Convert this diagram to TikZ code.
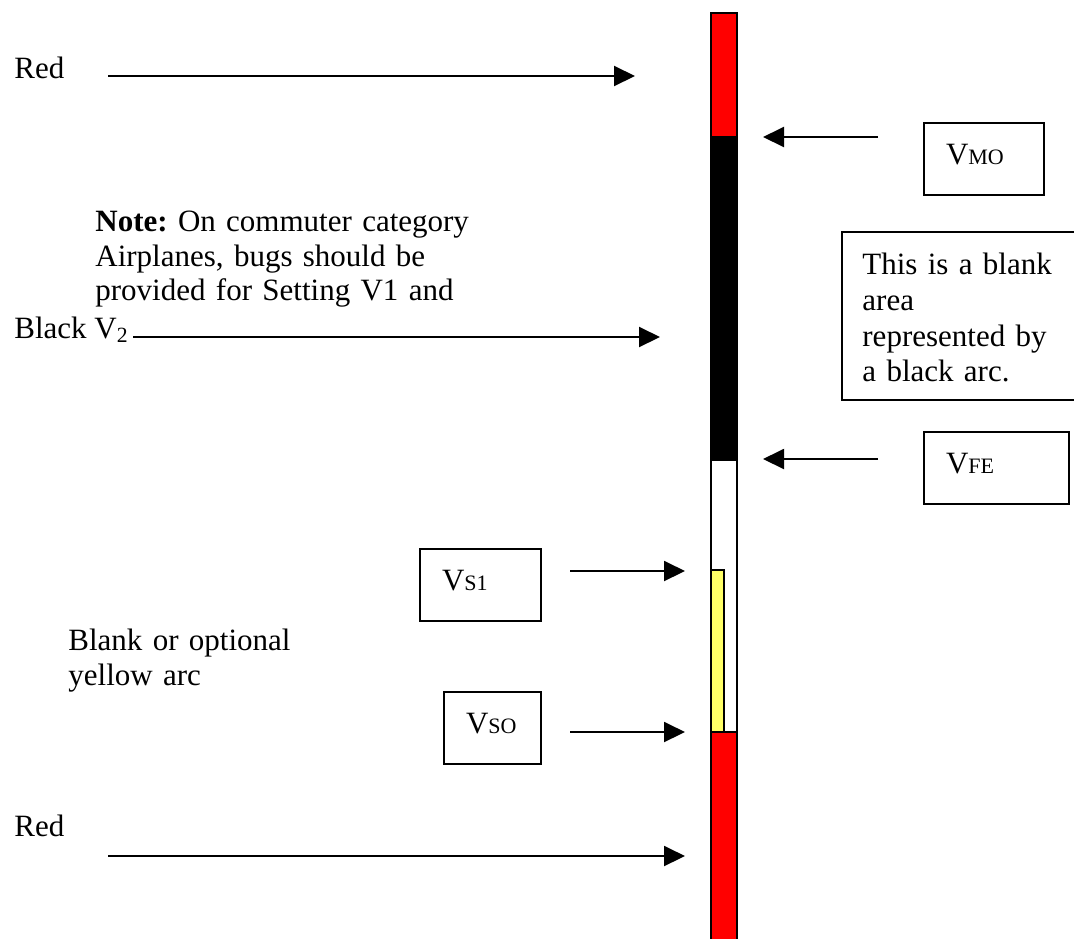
\documentclass[tikz,border=0pt]{standalone}
\usepackage{fontspec}
\setmainfont{Liberation Serif}
\usetikzlibrary{arrows.meta}
\definecolor{arcyellow}{RGB}{255,255,102}
\newcommand{\vsub}[1]{V{\fontsize{11}{12}\selectfont #1}}
\frenchspacing

\begin{document}
\begin{tikzpicture}[x=0.5pt,y=-0.5pt,font=\fontsize{15.5}{17.3}\selectfont,
    pointer/.style={line width=1pt,-{Triangle[length=10.5pt,width=10pt]}},
    speedbox/.style={draw,line width=1pt,anchor=north west,align=left,
      inner xsep=11pt,inner ysep=0pt,text height=20.5pt,text depth=15.5pt},
    plain/.style={anchor=base west,inner sep=0pt},
    para/.style={anchor=north west,inner sep=0pt,align=left,text width=#1}]
  \useasboundingbox (0,0) rectangle (1074,938);

  % the speed tape
  \begin{scope}[line width=0.75pt]
    \draw [fill=red] (711,13) rectangle (737,137);
    \draw [fill=black] (711,137) rectangle (737,460);
    \draw [fill=white] (711,460) rectangle (737,732);
    \draw [fill=arcyellow] (711,570) rectangle (724,732);
    \draw [fill=red] (711,732) rectangle (737,945);
  \end{scope}

  % labels on the left
  \node [plain] (redtop) at (14,78) {Red};
  \node [plain] (black) at (14,338) {Black V\textsubscript{2}};
  \node [plain] (redbot) at (14,836) {Red};
  \node [para=200pt] (note) at (95,210.5)
    {\textbf{Note:} On commuter category\\Airplanes, bugs should be\\provided for Setting V1 and};
  \node [para=200pt] (optional) at (68,629) {Blank or optional\\yellow arc};

  % speed boxes
  \node [speedbox,text width=38pt] (vmo) at (923,122) {\vsub{MO}};
  \node [speedbox,text width=50.5pt] (vfe) at (923,431) {\vsub{FE}};
  \node [speedbox,text width=38.5pt] (vsone) at (419,548) {\vsub{S1}};
  \node [speedbox,text width=26.5pt] (vso) at (443,691) {\vsub{SO}};
  \node [draw,line width=1pt,anchor=north west,minimum width=130pt,minimum height=84pt] (blankbox) at (841,231) {};
  \node [para=120pt,font=\fontsize{15.5}{17.8}\selectfont] (blanktxt) at (862,253)
    {This is a blank\\area\\represented by\\a black arc.};

  % arrow ends
  \coordinate (redtop-t) at (108,76);  \coordinate (redtop-h) at (635,76);
  \coordinate (black-t) at (133,337);  \coordinate (black-h) at (660,337);
  \coordinate (vmo-t) at (878,137);    \coordinate (vmo-h) at (763,137);
  \coordinate (vfe-t) at (878,459);    \coordinate (vfe-h) at (763,459);
  \coordinate (vsone-t) at (570,571);  \coordinate (vsone-h) at (685,571);
  \coordinate (vso-t) at (570,732);    \coordinate (vso-h) at (685,732);
  \coordinate (redbot-t) at (108,856); \coordinate (redbot-h) at (685,856);

  \foreach \a in {redtop,black,vmo,vfe,vsone,vso,redbot}
    \draw [pointer] (\a-t) -- (\a-h);
\end{tikzpicture}
\end{document}
